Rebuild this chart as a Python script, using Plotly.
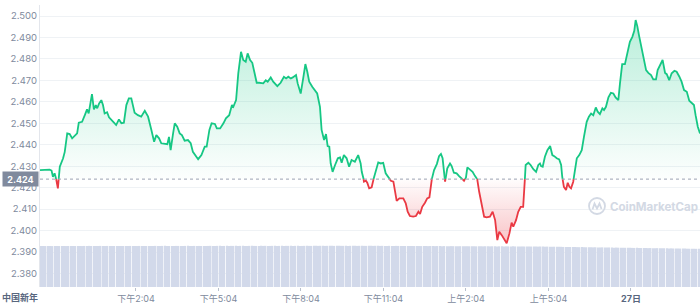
import numpy as np
import plotly.graph_objects as go

# ---------------- data ----------------
hours = [
    0, 0.05, 0.15, 0.35, 0.42, 0.47, 0.53, 0.59, 0.65, 0.72,
    0.84, 0.90, 0.99, 1.08, 1.17, 1.26, 1.35, 1.41, 1.53, 1.63,
    1.71, 1.77, 1.83, 1.89, 1.96, 2.03, 2.08, 2.15, 2.23, 2.29,
    2.35, 2.44, 2.51, 2.59, 2.69, 2.77, 2.87, 2.96, 3.05, 3.14,
    3.23, 3.32, 3.38, 3.44, 3.56, 3.68, 3.81, 3.93, 4.05, 4.15,
    4.23, 4.33, 4.41, 4.53, 4.63, 4.69, 4.75, 4.84, 4.90, 4.99,
    5.08, 5.16, 5.26, 5.38, 5.48, 5.56, 5.68, 5.75, 5.87, 5.99,
    6.06, 6.16, 6.24, 6.36, 6.43, 6.55, 6.67, 6.76, 6.88, 6.98,
    7.03, 7.13, 7.21, 7.31, 7.39, 7.48, 7.55, 7.64, 7.72, 7.79,
    7.88, 7.97, 8.12, 8.21, 8.28, 8.39, 8.48, 8.63, 8.75, 8.87,
    8.95, 9.03, 9.12, 9.19, 9.31, 9.37, 9.48, 9.57, 9.65, 9.72,
    9.79, 9.90, 10.00, 10.08, 10.18, 10.24, 10.33, 10.40, 10.46, 10.52,
    10.57, 10.64, 10.73, 10.83, 10.91, 10.97, 11.05, 11.15, 11.24, 11.33,
    11.45, 11.57, 11.66, 11.70, 11.76, 11.78, 11.85, 11.90, 11.97, 12.06,
    12.15, 12.24, 12.30, 12.39, 12.48, 12.57, 12.67, 12.76, 12.85, 12.91,
    12.97, 13.07, 13.21, 13.30, 13.37, 13.45, 13.57, 13.67, 13.76, 13.82,
    13.90, 14.00, 14.08, 14.16, 14.24, 14.33, 14.43, 14.51, 14.58, 14.64,
    14.73, 14.81, 14.91, 14.97, 15.05, 15.15, 15.24, 15.33, 15.42, 15.49,
    15.54, 15.64, 15.73, 15.82, 15.90, 15.97, 16.06, 16.15, 16.24, 16.36,
    16.46, 16.55, 16.63, 16.70, 16.79, 16.87, 16.97, 17.07, 17.15, 17.21,
    17.31, 17.39, 17.48, 17.57, 17.63, 17.66, 17.76, 17.84, 17.94, 18.04,
    18.12, 18.18, 18.22, 18.28, 18.36, 18.45, 18.55, 18.63, 18.70, 18.79,
    18.88, 18.95, 18.99, 19.05, 19.13, 19.19, 19.25, 19.31, 19.39, 19.45,
    19.52, 19.61, 19.70, 19.78, 19.88, 19.96, 20.04, 20.12, 20.21, 20.28,
    20.36, 20.45, 20.51, 20.58, 20.67, 20.76, 20.85, 20.93, 21.03, 21.09,
    21.17, 21.27, 21.36, 21.45, 21.54, 21.61, 21.66, 21.72, 21.78, 21.85,
    21.94, 22.04, 22.12, 22.22, 22.30, 22.40, 22.46, 22.57, 22.64, 22.73,
    22.79, 22.88, 22.97, 23.07, 23.15, 23.25, 23.33, 23.42, 23.52, 23.61,
    23.70, 23.78, 23.84, 23.92, 24.0,
]

price = [
    2.4282, 2.4282, 2.4285, 2.4284, 2.4280, 2.4251, 2.4267, 2.4239, 2.4197, 2.4298,
    2.4337, 2.4367, 2.4453, 2.4450, 2.4430, 2.4441, 2.4453, 2.4503, 2.4507, 2.4538,
    2.4565, 2.4546, 2.4593, 2.4636, 2.4565, 2.4585, 2.4570, 2.4593, 2.4608, 2.4585,
    2.4546, 2.4552, 2.4528, 2.4515, 2.4503, 2.4492, 2.4518, 2.4500, 2.4503, 2.4585,
    2.4616, 2.4616, 2.4577, 2.4549, 2.4538, 2.4531, 2.4558, 2.4531, 2.4469, 2.4414,
    2.4445, 2.4430, 2.4407, 2.4403, 2.4403, 2.4437, 2.4375, 2.4453, 2.4500, 2.4484,
    2.4453, 2.4445, 2.4419, 2.4422, 2.4407, 2.4367, 2.4344, 2.4333, 2.4352, 2.4391,
    2.4391, 2.4469, 2.4500, 2.4497, 2.4476, 2.4476, 2.4500, 2.4523, 2.4538, 2.4585,
    2.4577, 2.4608, 2.4733, 2.4833, 2.4795, 2.4787, 2.4826, 2.4795, 2.4782, 2.4740,
    2.4689, 2.4689, 2.4686, 2.4701, 2.4694, 2.4714, 2.4694, 2.4673, 2.4689, 2.4717,
    2.4709, 2.4717, 2.4709, 2.4714, 2.4725, 2.4686, 2.4639, 2.4709, 2.4776, 2.4740,
    2.4694, 2.4670, 2.4652, 2.4639, 2.4577, 2.4469, 2.4422, 2.4450, 2.4394, 2.4391,
    2.4313, 2.4274, 2.4306, 2.4337, 2.4341, 2.4316, 2.4352, 2.4337, 2.4298, 2.4329,
    2.4321, 2.4352, 2.4313, 2.4274, 2.4244, 2.4228, 2.4233, 2.4223, 2.4197, 2.4202,
    2.4251, 2.4298, 2.4318, 2.4313, 2.4316, 2.4267, 2.4248, 2.4232, 2.4228, 2.4181,
    2.4139, 2.4150, 2.4150, 2.4127, 2.4088, 2.4068, 2.4065, 2.4068, 2.4088, 2.4077,
    2.4111, 2.4130, 2.4150, 2.4155, 2.4236, 2.4282, 2.4310, 2.4347, 2.4357, 2.4337,
    2.4228, 2.4290, 2.4313, 2.4301, 2.4270, 2.4267, 2.4254, 2.4244, 2.4232, 2.4248,
    2.4295, 2.4282, 2.4274, 2.4254, 2.4239, 2.4181, 2.4119, 2.4065, 2.4062, 2.4065,
    2.4088, 2.4049, 2.3956, 2.3995, 2.3979, 2.3964, 2.3941, 2.3987, 2.4037, 2.4018,
    2.4049, 2.4088, 2.4111, 2.4111, 2.4236, 2.4306, 2.4316, 2.4306, 2.4286, 2.4274,
    2.4306, 2.4313, 2.4301, 2.4298, 2.4344, 2.4375, 2.4394, 2.4352, 2.4347, 2.4337,
    2.4332, 2.4306, 2.4251, 2.4204, 2.4189, 2.4223, 2.4204, 2.4197, 2.4228, 2.4282,
    2.4337, 2.4352, 2.4375, 2.4437, 2.4507, 2.4531, 2.4546, 2.4538, 2.4574, 2.4554,
    2.4543, 2.4570, 2.4562, 2.4577, 2.4621, 2.4642, 2.4639, 2.4621, 2.4608, 2.4686,
    2.4776, 2.4776, 2.4833, 2.4880, 2.4903, 2.4931, 2.4981, 2.4953, 2.4911, 2.4864,
    2.4803, 2.4748, 2.4735, 2.4725, 2.4705, 2.4705, 2.4748, 2.4779, 2.4795, 2.4735,
    2.4729, 2.4701, 2.4733, 2.4745, 2.4740, 2.4717, 2.4694, 2.4655, 2.4647, 2.4605,
    2.4593, 2.4585, 2.4538, 2.4484, 2.4453,
]

# volume (arbitrary units), one bar per 5 minutes
volume = [
    145.3, 145.5, 145.2, 145.6, 145.4, 145.1, 145.5, 145.7, 145.3, 145.4, 145.6, 145.2,
    145.4, 145.6, 145.5, 145.3, 145.7, 145.5, 145.2, 145.6, 145.4, 145.8, 145.5, 145.3,
    145.6, 145.4, 145.7, 145.5, 145.3, 145.6, 145.8, 145.4, 145.5, 145.7, 145.6, 145.4,
    145.5, 145.7, 145.4, 145.6, 145.8, 145.5, 145.3, 145.6, 145.7, 145.5, 145.4, 145.6,
    145.7, 145.5, 145.8, 145.6, 145.4, 145.7, 145.9, 145.6, 145.5, 145.8, 145.6, 145.7,
    145.6, 145.8, 145.5, 145.7, 145.9, 145.6, 145.4, 145.7, 145.8, 145.6, 145.5, 145.7,
    145.8, 145.6, 145.9, 145.7, 145.5, 145.8, 146.0, 145.7, 145.6, 145.9, 145.7, 145.8,
    145.7, 145.9, 145.6, 145.8, 146.0, 145.7, 145.5, 145.8, 145.9, 145.7, 145.6, 145.8,
    145.9, 145.7, 146.0, 145.8, 145.6, 145.9, 146.1, 145.8, 145.7, 146.0, 145.8, 145.9,
    145.8, 146.0, 145.7, 145.9, 146.1, 145.8, 145.6, 145.9, 146.0, 145.8, 145.7, 145.9,
    146.0, 145.8, 146.1, 145.9, 145.7, 146.0, 146.2, 145.9, 145.8, 146.1, 145.9, 146.0,
    145.9, 146.1, 145.8, 146.0, 146.2, 145.9, 145.7, 146.0, 146.1, 145.9, 145.8, 146.0,
    146.0, 145.8, 146.1, 145.9, 145.7, 146.0, 145.8, 145.6, 145.9, 145.7, 145.5, 145.8,
    145.6, 145.4, 145.7, 145.5, 145.3, 145.6, 145.4, 145.2, 145.5, 145.3, 145.1, 145.4,
    145.2, 145.0, 145.3, 145.1, 144.9, 145.2, 145.0, 144.8, 145.1, 144.9, 144.7, 145.0,
    144.8, 144.6, 144.9, 144.7, 144.5, 144.8, 144.6, 144.4, 144.7, 144.5, 144.3, 144.6,
    144.4, 144.2, 144.5, 144.3, 144.1, 144.4, 144.2, 144.0, 144.3, 144.1, 143.9, 144.2,
    144.0, 143.8, 144.1, 143.9, 143.7, 144.0, 143.8, 143.6, 143.9, 143.7, 143.5, 143.8,
    143.5, 143.3, 143.6, 143.2, 143.0, 143.3, 142.8, 142.6, 142.9, 142.5, 142.3, 142.6,
    142.1, 141.9, 142.2, 141.8, 141.6, 141.9, 141.4, 141.2, 141.5, 141.1, 140.9, 141.2,
    140.8, 140.6, 140.9, 140.5, 140.3, 140.6, 140.1, 139.9, 140.2, 139.8, 139.6, 139.9,
    139.4, 139.2, 139.5, 139.1, 138.9, 139.2, 138.7, 138.5, 138.8, 138.4, 138.2, 138.5,
    138.0, 137.8, 138.1, 137.7, 137.5, 137.8, 137.3, 137.1, 137.4, 137.0, 136.8, 137.1,
    136.6, 136.4, 136.7, 136.3, 136.1, 136.4, 135.9, 135.7, 136.0, 135.6, 135.4, 135.7,
]

base_price = 2.424
tick_hours = [3.49, 6.49, 9.49, 12.49, 15.49, 18.49, 21.49]
tick_labels = ["下午2:04", "下午5:04", "下午8:04", "下午11:04", "上午2:04", "上午5:04",
               "<b><span style='color:#58667e'>27日</span></b>"]
y_ticks = [2.380, 2.390, 2.400, 2.410, 2.420, 2.430, 2.440, 2.450, 2.460, 2.470,
           2.480, 2.490, 2.500]
day_label = "中国新年"

# ---------------- geometry helpers ----------------
t = np.array(hours, dtype=float)
p = np.array(price, dtype=float)
xs, ys = [t[0]], [p[0]]
for i in range(1, len(t)):
    a, b = p[i - 1] - base_price, p[i] - base_price
    if a * b < 0:
        f = a / (a - b)
        xs.append(t[i - 1] + f * (t[i] - t[i - 1]))
        ys.append(base_price)
    xs.append(t[i])
    ys.append(p[i])
xs = np.array(xs)
ys = np.array(ys)
up = np.maximum(ys, base_price)
dn = np.minimum(ys, base_price)
green_line = [v if v >= base_price else None for v in ys]
red_line = [v if v <= base_price else None for v in ys]
basel = [base_price] * len(xs)

GREEN = "#16c784"
RED = "#ea3943"
GRAY = "#808a9d"
FONT = "Inter, 'Noto Sans CJK SC', sans-serif"

fig = go.Figure()

# volume bars
vol_x = (np.arange(len(volume)) + 0.5) * 24 / len(volume)
fig.add_trace(go.Bar(x=vol_x, y=volume, yaxis="y2", marker=dict(color="#d2d9ea", line=dict(width=0)),
                     hoverinfo="skip", showlegend=False))

# green fill
fig.add_trace(go.Scatter(x=xs, y=basel, mode="lines", line=dict(width=0), hoverinfo="skip",
                         showlegend=False))
fig.add_trace(go.Scatter(x=xs, y=up, mode="lines", line=dict(width=0), fill="tonexty",
                         fillgradient=dict(type="vertical",
                                           colorscale=[[0, "rgba(22,199,132,0.01)"],
                                                       [1, "rgba(22,199,132,0.30)"]],
                                           start=base_price, stop=float(p.max())),
                         hoverinfo="skip", showlegend=False))
# red fill
fig.add_trace(go.Scatter(x=xs, y=basel, mode="lines", line=dict(width=0), hoverinfo="skip",
                         showlegend=False))
fig.add_trace(go.Scatter(x=xs, y=dn, mode="lines", line=dict(width=0), fill="tonexty",
                         fillgradient=dict(type="vertical",
                                           colorscale=[[0, "rgba(234,57,67,0.30)"],
                                                       [1, "rgba(234,57,67,0.01)"]],
                                           start=float(p.min()), stop=base_price),
                         hoverinfo="skip", showlegend=False))
# lines
fig.add_trace(go.Scatter(x=xs, y=green_line, mode="lines", line=dict(color=GREEN, width=1.8),
                         hoverinfo="skip", showlegend=False))
fig.add_trace(go.Scatter(x=xs, y=red_line, mode="lines", line=dict(color=RED, width=1.8),
                         hoverinfo="skip", showlegend=False))

# baseline dotted line
fig.add_shape(type="line", xref="paper", x0=0, x1=1, yref="y", y0=base_price, y1=base_price,
              line=dict(color="#9aa3b3", width=1, dash="dot"), layer="above")

# watermark logo (circle + wave)
def px_to_paper(px, py):
    return (px - 40) / 660, (287 - py) / 282

cx0, cy0 = px_to_paper(589, 198)
cx1, cy1 = px_to_paper(605, 214)
fig.add_shape(type="circle", xref="paper", yref="paper", x0=cx0, y0=cy1, x1=cx1, y1=cy0,
              line=dict(color="#d3d9e4", width=1.8), layer="above")
pts = [(592.5, 209.5), (594.5, 203.5), (597, 208.5), (599.5, 203.5), (601.5, 209)]
path = "M " + " L ".join(f"{px_to_paper(a, b)[0]},{px_to_paper(a, b)[1]}" for a, b in pts)
fig.add_shape(type="path", xref="paper", yref="paper", path=path,
              line=dict(color="#d3d9e4", width=1.8), layer="above")
tx, ty = px_to_paper(653.5, 206.5)
fig.add_annotation(xref="paper", yref="paper", x=tx, y=ty, text="<b>CoinMarketCap</b>",
                   showarrow=False, font=dict(family=FONT, size=11.5, color="#d3d9e4"),
                   xanchor="center", yanchor="middle")

# current price label
lx, _ = px_to_paper(20.5, 0)
fig.add_annotation(xref="paper", yref="y", x=lx, y=base_price, text="<b>2.424</b>",
                   showarrow=False, font=dict(family=FONT, size=9, color="white"),
                   bgcolor=GRAY, width=33, height=12, borderpad=1,
                   xanchor="center", yanchor="middle")

# day label to the left
dx, dy = px_to_paper(20, 297)
fig.add_annotation(xref="paper", yref="paper", x=dx, y=dy, text="<b>" + day_label + "</b>",
                   showarrow=False, font=dict(family=FONT, size=9, color="#58667e"),
                   xanchor="center", yanchor="middle")

fig.update_layout(
    width=700, height=306,
    margin=dict(l=40, r=0, t=5, b=19),
    paper_bgcolor="white", plot_bgcolor="white",
    showlegend=False, hovermode=False, bargap=0.35,
    font=dict(family=FONT, size=9, color=GRAY),
    xaxis=dict(range=[0, 24], tickvals=tick_hours, ticktext=tick_labels, showgrid=False,
               zeroline=False, showline=False, ticks="outside", ticklen=3, tickwidth=1,
               tickcolor="#b8bfcc", tickfont=dict(family=FONT, size=9, color=GRAY)),
    yaxis=dict(range=[2.37373, 2.50513], tickvals=y_ticks, tickformat=".3f",
               showgrid=True, gridcolor="#eff2f5", gridwidth=1, zeroline=False,
               showline=True, linecolor="#e3e6ec", linewidth=1, ticks="",
               tickfont=dict(family=FONT, size=9.5, color=GRAY)),
    yaxis2=dict(range=[0, 1000], overlaying="y", visible=False, showgrid=False),
)

fig.write_html("out.html")
